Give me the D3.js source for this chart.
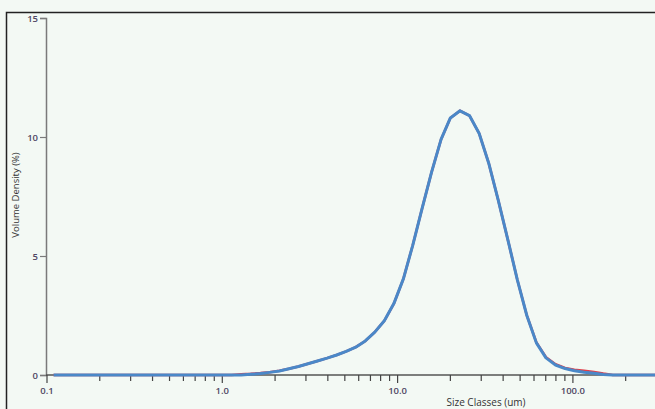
<!DOCTYPE html>
<html><head><meta charset="utf-8">
<script src="https://cdn.jsdelivr.net/npm/d3@7"></script>
<style>
html,body{margin:0;padding:0;background:#f3f9f4;overflow:hidden;}
svg{display:block;font-family:"Open Sans","Noto Sans",sans-serif;}
</style></head>
<body>
<svg id="chart" width="655" height="409"></svg>
<script>
// size classes (µm)
const sizes = [0.109, 0.2, 0.5, 1.0, 1.13, 1.28, 1.45, 1.65, 1.86, 2.12, 2.40, 2.72, 3.08, 3.49, 3.96, 4.49, 5.09, 5.77, 6.54, 7.41, 8.40, 9.52, 10.8, 12.2, 13.8, 15.6, 17.7, 20.0, 22.7, 25.7, 29.2, 33.1, 37.5, 42.5, 48.2, 54.6, 61.9, 70.2, 79.6, 90.2, 102, 116, 132, 149, 169, 192, 217, 246, 279, 316, 358];
// volume density (%) — red (underlying) and blue series
const redValues  = [0, 0, 0, 0, 0, 0.03, 0.05, 0.08, 0.12, 0.18, 0.26, 0.36, 0.47, 0.59, 0.71, 0.84, 0.99, 1.17, 1.43, 1.80, 2.28, 3.0, 4.05, 5.45, 7.0, 8.5, 9.9, 10.8, 11.1, 10.9, 10.15, 8.9, 7.35, 5.7, 4.0, 2.5, 1.37, 0.75, 0.45, 0.30, 0.22, 0.18, 0.13, 0.06, 0, 0, 0, 0, 0, 0, 0];
const blueValues = [0, 0, 0, 0, 0, 0, 0.03, 0.06, 0.11, 0.17, 0.26, 0.36, 0.47, 0.59, 0.71, 0.84, 0.99, 1.17, 1.43, 1.80, 2.28, 3.0, 4.05, 5.45, 7.0, 8.5, 9.9, 10.8, 11.1, 10.9, 10.15, 8.9, 7.35, 5.7, 4.0, 2.5, 1.35, 0.72, 0.42, 0.27, 0.18, 0.12, 0.07, 0.02, 0, 0, 0, 0, 0, 0, 0];
const yTicks = [0, 5, 10, 15];
const xTickLabels = [[0.1, "0.1"], [1, "1.0"], [10, "10.0"], [100, "100.0"]];
const minorTicks = [];
[0.1, 1, 10, 100].forEach(d => { for (let k = 2; k <= 9; k++) minorTicks.push(d * k); });

const svg = d3.select("#chart");
const W = 655, H = 409;
const x0 = 47, decade = 175.3, yBase = 375, yTop = 18;

svg.append("rect").attr("width", W).attr("height", H).attr("fill", "#f3f9f4");
// outer frame
svg.append("path").attr("d", `M6.5,${H} V12.5 H${W}`)
  .attr("fill", "none").attr("stroke", "#222").attr("stroke-width", 1.5);

const x = d3.scaleLog().domain([0.1, 1000]).range([x0, x0 + 4 * decade]);
const y = d3.scaleLinear().domain([0, 15]).range([yBase, yTop]);

const axisColor = "#7a7a7a";
const labelColor = "#4f4763";

// Y axis
const yAxis = d3.axisLeft(y).tickValues(yTicks).tickSize(6).tickPadding(2);
const gy = svg.append("g").attr("transform", `translate(${x0 - 1},0)`).call(yAxis);
gy.select(".domain").attr("stroke", axisColor).attr("stroke-width", 1.5);
gy.selectAll(".tick line").attr("stroke", axisColor).attr("stroke-width", 1.2);
gy.selectAll(".tick text").attr("fill", labelColor).attr("font-size", 9.5).attr("font-weight", 600).attr("font-family", "Open Sans");

// X axis line
svg.append("line").attr("x1", x0 - 1).attr("x2", W).attr("y1", yBase).attr("y2", yBase)
  .attr("stroke", "#555").attr("stroke-width", 1.5);
// minor ticks
svg.append("g").selectAll("line").data(minorTicks).join("line")
  .attr("x1", d => x(d)).attr("x2", d => x(d)).attr("y1", yBase).attr("y2", yBase + 6)
  .attr("stroke", "#444").attr("stroke-width", 1.2);
// major ticks
const gx = svg.append("g");
gx.selectAll("line").data(xTickLabels).join("line")
  .attr("x1", d => x(d[0])).attr("x2", d => x(d[0])).attr("y1", yBase).attr("y2", yBase + 8)
  .attr("stroke", "#444").attr("stroke-width", 1.2);
gx.selectAll("text").data(xTickLabels).join("text")
  .attr("x", d => x(d[0])).attr("y", 394).attr("text-anchor", "middle")
  .attr("fill", labelColor).attr("font-size", 9.5).attr("font-weight", 600).text(d => d[1]);

// axis titles
svg.append("text").attr("transform", "translate(19,195) rotate(-90)").attr("text-anchor", "middle")
  .attr("font-size", 9.5).attr("fill", "#333").text("Volume Density (%)");
svg.append("text").attr("x", 486).attr("y", 405.5).attr("text-anchor", "middle")
  .attr("font-size", 10).attr("fill", "#333").text("Size Classes (um)");

// series
const line = d3.line().x(d => x(d[0])).y(d => y(d[1]));
svg.append("path").datum(sizes.map((s, i) => [s, redValues[i]]))
  .attr("d", line).attr("fill", "none").attr("stroke", "#e0404a").attr("stroke-width", 2.5);
svg.append("path").datum(sizes.map((s, i) => [s, blueValues[i]]))
  .attr("d", line).attr("fill", "none").attr("stroke", "#4a88c8").attr("stroke-width", 3)
  .attr("stroke-linejoin", "round");
</script>
</body></html>
